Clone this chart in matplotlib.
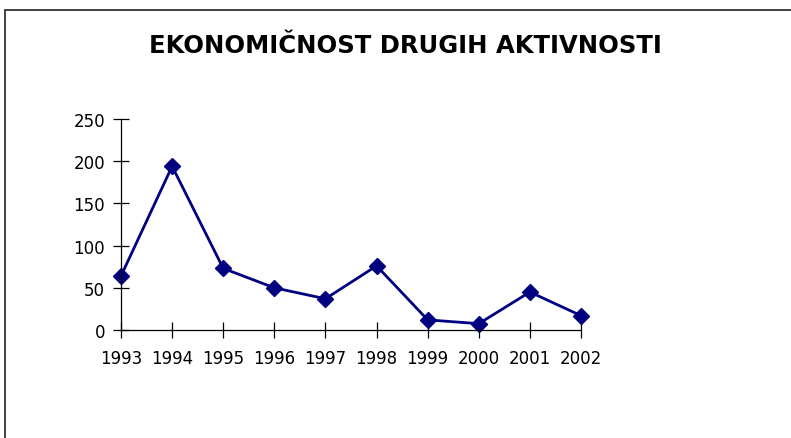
import matplotlib
matplotlib.use('Agg')
import matplotlib.pyplot as plt
import matplotlib.patches as mpatches

years = ['1993', '1994', '1995', '1996', '1997', '1998', '1999', '2000', '2001', '2002']
values = [64, 194, 73, 50, 37, 76, 12, 7.5, 45, 17]
title = 'EKONOMIČNOST DRUGIH AKTIVNOSTI'

plt.rcParams['font.family'] = ['DejaVu Sans']

fig = plt.figure(figsize=(7.91, 4.39), dpi=100)
fig.patch.set_facecolor('white')

# outer frame, clipped on the right and bottom like the reference
frame = mpatches.Rectangle((5 / 791, -0.2), 1.2, 1.2 - 11 / 439, transform=fig.transFigure,
                           fill=False, edgecolor='#222222', linewidth=1.2)
fig.patches.append(frame)

ax = fig.add_axes([121 / 791, 1 - 331 / 439, (581 - 121) / 791, (331 - 120) / 439])
x = list(range(len(years)))
ax.plot(x, values, color='#000080', linewidth=2.0, marker='D', markersize=8,
        markerfacecolor='#000080', markeredgecolor='#000080', clip_on=False)

ax.set_xlim(0, len(years) - 1)
ax.set_ylim(0, 250)
ax.set_yticks([0, 50, 100, 150, 200, 250])
ax.set_xticks(x)
ax.set_xticklabels(years)
for s in ['top', 'right']:
    ax.spines[s].set_visible(False)
for s in ['left', 'bottom']:
    ax.spines[s].set_linewidth(0.9)
    ax.spines[s].set_color('black')
ax.tick_params(axis='both', direction='inout', length=11, width=0.9, labelsize=12, colors='black')
ax.tick_params(axis='y', pad=6)
ax.tick_params(axis='x', pad=8)

fig.text(405 / 791, 1 - 46 / 439, title, ha='center', va='center',
         fontsize=17.5, fontweight='bold', color='black')

fig.savefig('out.png', dpi=100)
